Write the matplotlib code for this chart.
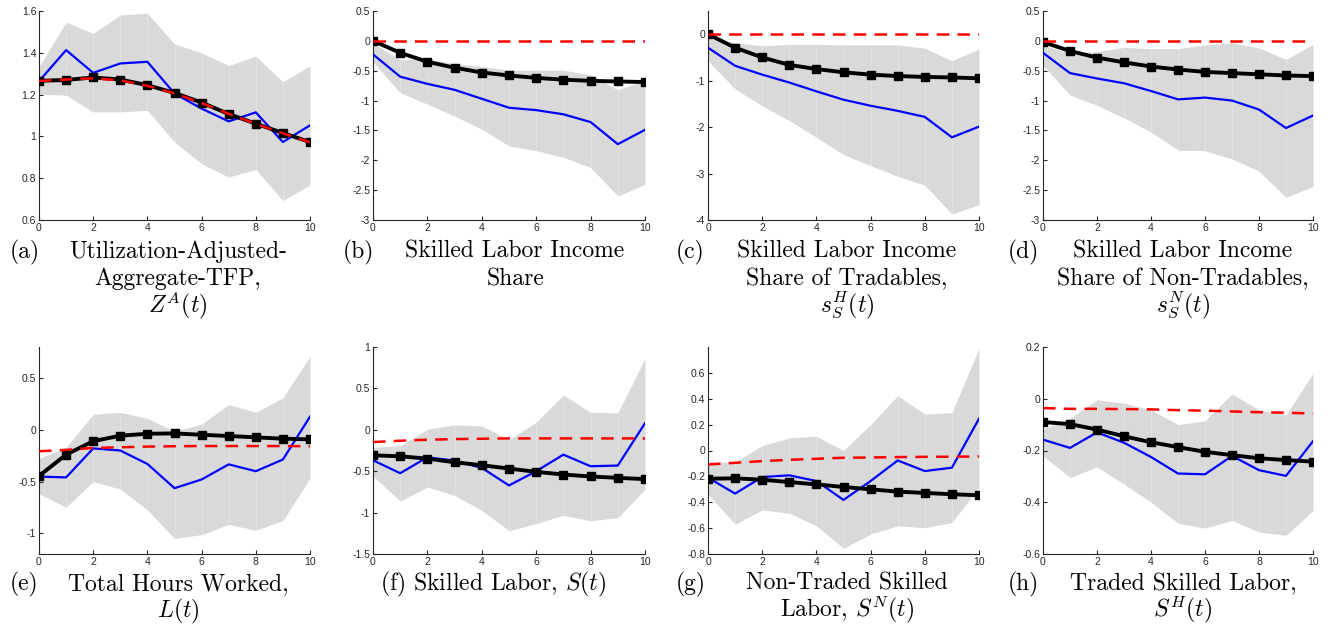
import numpy as np
import matplotlib
matplotlib.use("Agg")
import matplotlib.pyplot as plt
from matplotlib.ticker import FuncFormatter

plt.rcParams["axes.unicode_minus"] = False
plt.rcParams["mathtext.fontset"] = "cm"

W, H = 1335, 632
horizon = np.arange(11)

# ---- data: (model, red dashed, blue estimate, band low, band high)
tfp_model = [1.266, 1.270, 1.282, 1.272, 1.245, 1.208, 1.162, 1.107, 1.061, 1.016, 0.973]
tfp_alt = [1.265, 1.272, 1.278, 1.268, 1.242, 1.206, 1.160, 1.108, 1.060, 1.015, 0.972]
tfp_est = [1.264, 1.413, 1.304, 1.349, 1.357, 1.205, 1.133, 1.072, 1.115, 0.973, 1.053]
tfp_lo = [1.202, 1.197, 1.117, 1.117, 1.125, 0.973, 0.869, 0.805, 0.842, 0.693, 0.768]
tfp_hi = [1.333, 1.547, 1.493, 1.581, 1.589, 1.442, 1.400, 1.339, 1.384, 1.261, 1.338]

ss_model = [0.0, -0.20, -0.35, -0.45, -0.53, -0.58, -0.62, -0.65, -0.67, -0.68, -0.69]
ss_alt = [0.0] * 11
ss_est = [-0.226, -0.60, -0.72, -0.82, -0.97, -1.12, -1.16, -1.23, -1.36, -1.73, -1.49]
ss_lo = [-0.35, -0.87, -1.06, -1.26, -1.48, -1.76, -1.84, -1.95, -2.12, -2.60, -2.40]
ss_hi = [-0.04, -0.32, -0.30, -0.38, -0.43, -0.49, -0.49, -0.49, -0.57, -0.82, -0.66]

ssh_model = [0.0, -0.29, -0.50, -0.66, -0.75, -0.82, -0.87, -0.90, -0.92, -0.93, -0.95]
ssh_alt = [0.0] * 11
ssh_est = [-0.29, -0.68, -0.87, -1.04, -1.23, -1.41, -1.54, -1.65, -1.78, -2.22, -1.99]
ssh_lo = [-0.57, -1.18, -1.54, -1.86, -2.22, -2.59, -2.83, -3.06, -3.25, -3.87, -3.67]
ssh_hi = [-0.04, -0.18, -0.25, -0.22, -0.22, -0.23, -0.23, -0.23, -0.30, -0.57, -0.32]

ssn_model = [-0.02, -0.17, -0.28, -0.36, -0.43, -0.48, -0.52, -0.54, -0.56, -0.58, -0.59]
ssn_alt = [0.0] * 11
ssn_est = [-0.20, -0.54, -0.63, -0.71, -0.84, -0.98, -0.95, -1.00, -1.15, -1.46, -1.25]
ssn_lo = [-0.41, -0.91, -1.08, -1.29, -1.53, -1.83, -1.84, -1.98, -2.18, -2.62, -2.44]
ssn_hi = [-0.07, -0.21, -0.18, -0.11, -0.13, -0.13, -0.07, -0.03, -0.12, -0.31, -0.06]

hours_model = [-0.446, -0.24, -0.11, -0.057, -0.038, -0.035, -0.048, -0.060, -0.073, -0.086, -0.092]
hours_alt = [-0.207, -0.194, -0.175, -0.169, -0.162, -0.159, -0.157, -0.157, -0.157, -0.157, -0.159]
hours_est = [-0.452, -0.46, -0.18, -0.20, -0.33, -0.564, -0.48, -0.334, -0.40, -0.287, 0.127]
hours_lo = [-0.62, -0.748, -0.50, -0.573, -0.774, -1.05, -1.013, -0.914, -0.97, -0.876, -0.468]
hours_hi = [-0.277, -0.169, 0.15, 0.169, 0.111, -0.016, 0.054, 0.245, 0.169, 0.309, 0.71]

skl_model = [-0.308, -0.32, -0.348, -0.392, -0.428, -0.468, -0.508, -0.54, -0.564, -0.58, -0.596]
skl_alt = [-0.148, -0.132, -0.12, -0.112, -0.108, -0.104, -0.104, -0.104, -0.104, -0.104, -0.104]
skl_est = [-0.368, -0.524, -0.332, -0.372, -0.46, -0.672, -0.50, -0.30, -0.44, -0.432, 0.08]
skl_lo = [-0.56, -0.86, -0.692, -0.792, -0.972, -1.22, -1.132, -1.032, -1.10, -1.06, -0.72]
skl_hi = [-0.212, -0.192, 0.008, 0.06, 0.048, -0.12, 0.092, 0.42, 0.212, 0.204, 0.86]

skn_model = [-0.218, -0.215, -0.226, -0.244, -0.262, -0.282, -0.30, -0.318, -0.328, -0.338, -0.346]
skn_alt = [-0.108, -0.095, -0.082, -0.072, -0.064, -0.056, -0.054, -0.051, -0.049, -0.048, -0.046]
skn_est = [-0.21, -0.333, -0.205, -0.192, -0.236, -0.382, -0.236, -0.077, -0.159, -0.133, 0.246]
skn_lo = [-0.338, -0.57, -0.459, -0.485, -0.582, -0.756, -0.646, -0.582, -0.597, -0.556, -0.287]
skn_hi = [-0.09, -0.09, 0.038, 0.097, 0.11, 0.0, 0.2, 0.423, 0.282, 0.292, 0.79]

skh_model = [-0.09, -0.098, -0.119, -0.145, -0.168, -0.187, -0.205, -0.218, -0.23, -0.237, -0.243]
skh_alt = [-0.036, -0.039, -0.039, -0.04, -0.041, -0.044, -0.046, -0.049, -0.052, -0.054, -0.057]
skh_est = [-0.158, -0.19, -0.13, -0.17, -0.225, -0.289, -0.292, -0.221, -0.276, -0.298, -0.164]
skh_lo = [-0.221, -0.304, -0.264, -0.33, -0.40, -0.481, -0.50, -0.47, -0.515, -0.528, -0.432]
skh_hi = [-0.117, -0.075, -0.004, -0.017, -0.043, -0.10, -0.085, 0.019, -0.043, -0.062, 0.098]

panels = [
    (tfp_model, tfp_alt, tfp_est, tfp_lo, tfp_hi, (0.6, 1.6), np.arange(0.6, 1.61, 0.2)),
    (ss_model, ss_alt, ss_est, ss_lo, ss_hi, (-3, 0.5), np.arange(-3, 0.51, 0.5)),
    (ssh_model, ssh_alt, ssh_est, ssh_lo, ssh_hi, (-4, 0.5), np.arange(-4, 0.1, 1)),
    (ssn_model, ssn_alt, ssn_est, ssn_lo, ssn_hi, (-3, 0.5), np.arange(-3, 0.51, 0.5)),
    (hours_model, hours_alt, hours_est, hours_lo, hours_hi, (-1.2, 0.8), np.arange(-1, 0.51, 0.5)),
    (skl_model, skl_alt, skl_est, skl_lo, skl_hi, (-1.5, 1), np.arange(-1.5, 1.01, 0.5)),
    (skn_model, skn_alt, skn_est, skn_lo, skn_hi, (-0.8, 0.8), np.arange(-0.8, 0.61, 0.2)),
    (skh_model, skh_alt, skh_est, skh_lo, skh_hi, (-0.6, 0.2), np.arange(-0.6, 0.21, 0.2)),
]

# captions: (label, label_x, lines, centre_x), rows share baselines
captions = [
    ("(a)", 10, ["Utilization-Adjusted-", "Aggregate-TFP,", "$Z^A(t)$"], 178),
    ("(b)", 343, ["Skilled Labor Income", "Share"], 515),
    ("(c)", 676, ["Skilled Labor Income", "Share of Tradables,", "$s_S^H(t)$"], 847),
    ("(d)", 1008, ["Skilled Labor Income", "Share of Non-Tradables,", "$s_S^N(t)$"], 1183),
    ("(e)", 10, ["Total Hours Worked,", "$L(t)$"], 178),
    ("", 0, ["(f) Skilled Labor, $S(t)$"], 493),
    ("(g)", 676, ["Non-Traded Skilled", "Labor, $S^N(t)$"], 847),
    ("(h)", 1008, ["Traded Skilled Labor,", "$S^H(t)$"], 1183),
]

col_x = [(39, 310), (373, 645), (708, 979), (1043, 1313)]
row_y = [(11, 220), (347, 554)]
cap_base = [[258, 285, 312], [590, 617]]

fig = plt.figure(figsize=(W / 100, H / 100), dpi=100)
axis_col = "#262626"


def fmt(v, pos):
    s = "%g" % round(v, 6)
    return "0" if s == "-0" else s


for k, (model, alt, est, lo, hi, ylim, yt) in enumerate(panels):
    r, c = divmod(k, 4)
    x0, x1 = col_x[c]
    ytop, ybot = row_y[r]
    ax = fig.add_axes([x0 / W, 1 - ybot / H, (x1 - x0) / W, (ybot - ytop) / H])
    ax.fill_between(horizon, lo, hi, color="#d9d9d9", linewidth=0, zorder=1)
    # faint seams of the shaded patch
    for i in horizon:
        ax.plot([i, i], [lo[i], hi[i]], color="white", lw=0.4, alpha=0.4, zorder=1.5)
    ax.plot(horizon, est, color="#0000ff", lw=1.6, zorder=3)
    ax.plot(horizon, model, color="black", lw=2.8, marker="s", ms=5.5, zorder=4)
    ax.plot(horizon, alt, color="#ff0000", lw=1.8, ls=(0, (5, 3.3)), zorder=5)
    ax.set_xlim(0, 10)
    ax.set_ylim(*ylim)
    ax.set_xticks(np.arange(0, 11, 2))
    ax.set_yticks(yt)
    ax.yaxis.set_major_formatter(FuncFormatter(fmt))
    ax.xaxis.set_major_formatter(FuncFormatter(fmt))
    for s in ("top", "right"):
        ax.spines[s].set_visible(False)
    for s in ("left", "bottom"):
        ax.spines[s].set_color(axis_col)
        ax.spines[s].set_linewidth(0.8)
    ax.tick_params(direction="in", length=3, width=0.8, colors=axis_col,
                   labelsize=7.5, pad=2)
    for t in ax.get_xticklabels() + ax.get_yticklabels():
        t.set_fontfamily("Liberation Sans")

    label, lx, lines, cx = captions[k]
    bases = cap_base[r]
    if label:
        fig.text(lx / W, 1 - bases[0] / H, label, family="cmr10", fontsize=17,
                 ha="left", va="baseline")
    for j, line in enumerate(lines):
        fig.text(cx / W, 1 - bases[j] / H, line, family="cmr10", fontsize=17,
                 ha="center", va="baseline")

fig.savefig("out.png", dpi=100)
